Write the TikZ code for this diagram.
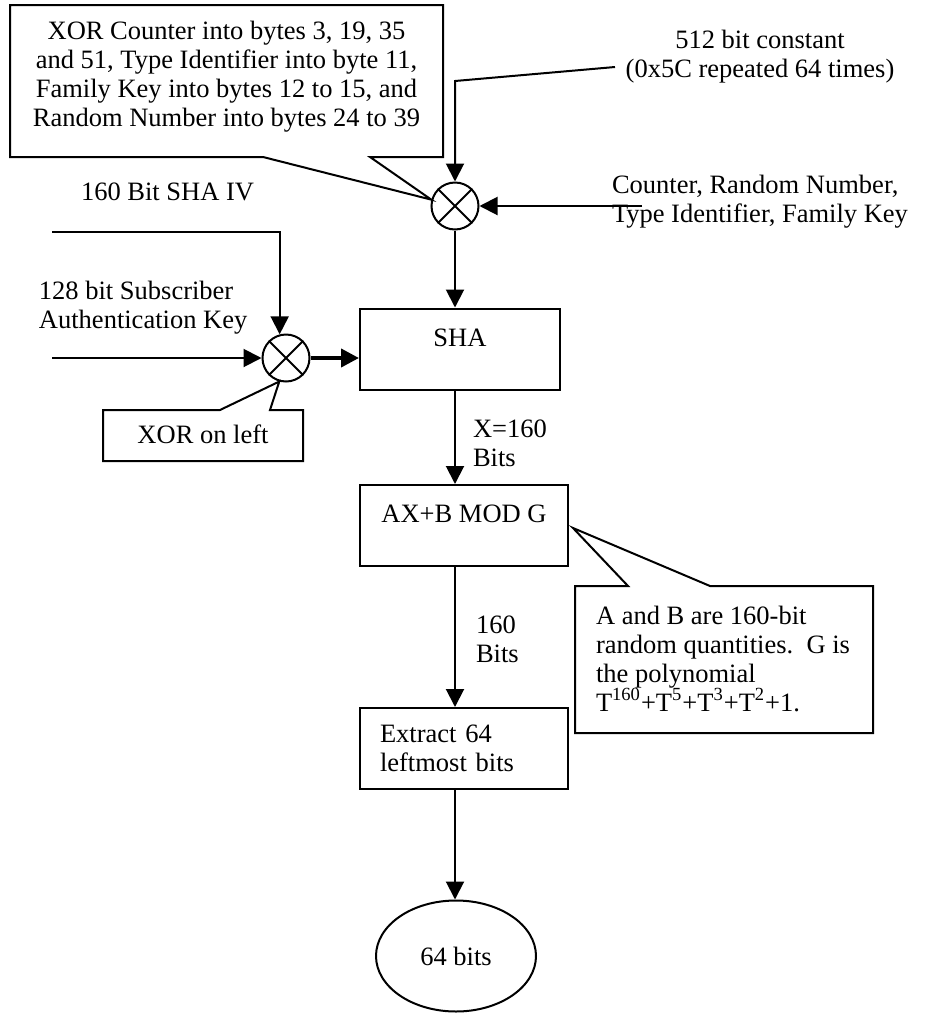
\documentclass[tikz,border=0pt]{standalone}
\usepackage{fontspec}
\setmainfont{Liberation Serif}
\usetikzlibrary{arrows.meta,calc,shapes.geometric}

\begin{document}
\begin{tikzpicture}[x=0.5pt,y=-0.5pt,line width=1pt,
    every node/.style={font=\fontsize{13.25}{14.5}\selectfont,inner sep=0pt},
    stage/.style={draw,minimum width=104pt,minimum height=40.5pt},
    toptext/.style={text height=10pt,text depth=13pt},
    xorop/.style={draw,circle,minimum size=23.5pt},
    flow/.style={-{Triangle[length=9pt,width=9pt]}},
    lbl/.style={align=left,anchor=north west}]
            % fix the page size
            \useasboundingbox (0,0) rectangle (927,1013);
            % the two xor gates
            \node[xorop] (xortop) at (455,206) {};
            \node[xorop] (xorl) at (286,358) {};
            \foreach \g in {xortop,xorl}
            \draw (\g.45) -- (\g.225) (\g.135) -- (\g.315);
            % the processing steps
            \node[stage,toptext,minimum width=100pt] (sha) at (460,349) {SHA};
            \node[stage,toptext] (mod) at (464,525.5) {AX+B MOD G};
            \node[stage,align=left,text width=84pt] (ext) at (464,748.5) {Extract 64\\leftmost bits};
            \node[draw,ellipse,minimum width=80pt,minimum height=55.5pt] (out) at (456,956) {64 bits};
            % input texts
            \node[anchor=base west] (ivtxt) at (80,200) {160 Bit SHA IV};
            \node[lbl] (keytxt) at (38,280) {128 bit Subscriber\\Authentication Key};
            \node[align=center,anchor=north] (csttxt) at (760,29) {512 bit constant\\(0x5C repeated 64 times)};
            \node[lbl] (ctrtxt) at (611,174) {Counter, Random Number,\\Type Identifier, Family Key};
            \node[lbl] (xlbl) at (472,419) {X=160\\Bits};
            \node[lbl] (blbl) at (475,615) {160\\Bits};
            % the callouts
            \node[align=center] (ctrnote) at (226.5,77) {XOR Counter into bytes 3, 19, 35\\and 51, Type Identifier into byte 11,\\Family Key into bytes 12 to 15, and\\Random Number into bytes 24 to 39};
            \draw (10,157) -- (10,5) -- (443,5) -- (443,157) -- (370,157) -- (xortop.165) -- (263,157) -- cycle;
            \node (xornote) at (203,434) {XOR on left};
            \draw (220,410) -- (103,410) -- (103,461) -- (303,461) -- (303,410) -- (270,410) -- (xorl.254) -- cycle;
            \node[lbl] (gnote) at (595,605) {A and B are 160-bit\\random quantities.\ \ G is\\the polynomial\\T\textsuperscript{160}+T\textsuperscript{5}+T\textsuperscript{3}+T\textsuperscript{2}+1.};
            \draw (628,586) -- (575,586) -- (575,733) -- (873,733) -- (873,586) -- (710,586) -- ($(mod.east)+(4,2.5)$) -- cycle;
            % the arrows
            \coordinate (cstend) at (615,67);
            \coordinate (cstbend) at (455,81);
            \draw[flow] (cstend) -- (cstbend) -- (xortop);
            \coordinate (ctrin) at (642,206);
            \draw[flow] (ctrin) -- (xortop);
            \draw[flow] (xortop) -- (xortop |- sha.north);
            \coordinate (ivin) at (52,232);
            \draw[flow] (ivin) -| (xorl.105);
            \coordinate (keyin) at (52,358);
            \draw[flow] (keyin) -- (xorl);
            \draw[flow,line width=2pt] (xorl) -- (xorl -| sha.west);
            \draw[flow] (sha.south -| xortop) -- (mod.north -| xortop);
            \draw[flow] (mod.south -| xortop) -- (ext.north -| xortop);
            \draw[flow] (ext.south -| xortop) -- (out.north -| xortop);
        \end{tikzpicture}
\end{document}
